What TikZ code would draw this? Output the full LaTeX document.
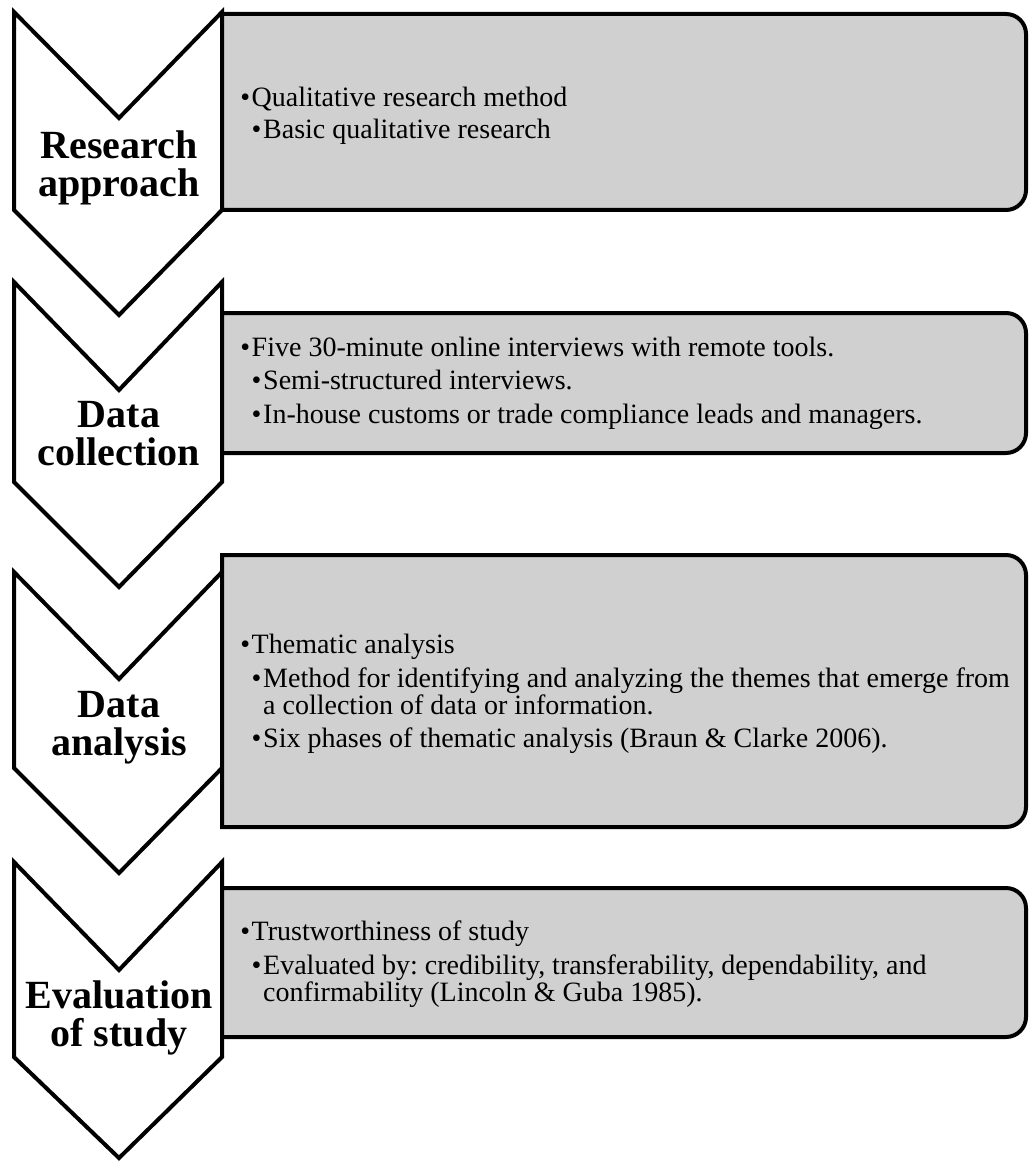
\documentclass[tikz,border=0pt]{standalone}
\usepackage{fontspec}
\setmainfont{Liberation Serif}
\usepackage{tikz}
\usetikzlibrary{positioning}
\definecolor{boxgray}{RGB}{208, 208, 208}
\newcommand{\bul}{\makebox[8.6pt][l]{•}}
\newcommand{\subbul}{\hspace*{8.6pt}\bul}
\newcommand{\contline}{\hspace*{17.2pt}}

\begin{document}
\frenchspacing
\begin{tikzpicture}[x=0.75pt, y=0.75pt,
  chevron/.style={draw, line width=3pt, fill=white, line join=miter},
  infobox/.style={draw, line width=3pt, fill=boxgray},
  steplabel/.style={font=\bfseries\fontsize{30pt}{28.5pt}\selectfont,
                    align=center, inner sep=0pt},
  itemtext/.style={font=\fontsize{21pt}{20.25pt}\selectfont,
                   align=left, anchor=west, inner sep=0pt}]
  \useasboundingbox (0,0) rectangle (1030,-1162);
  % Research approach
  \draw[chevron] (14,-12) -- (119,-118) -- (222,-12) -- (222,-210)
                 -- (119,-315) -- (14,-210) -- cycle;
  \draw[infobox] (222,-14) -- (1006,-14) arc[start angle=90, end angle=0, radius=15pt]
                 -- (1026,-190) arc[start angle=0, end angle=-90, radius=15pt]
                 -- (222,-210) -- cycle;
  \node[steplabel] (approach) at (119,-168) {Research\\approach};
  \node[itemtext] (approachtxt) at (240,-116)
        {\bul Qualitative research method\\[4pt]
         \subbul Basic qualitative research};
  % Data collection
  \draw[chevron] (14,-282) -- (119,-390) -- (222,-282) -- (222,-482)
                 -- (119,-587) -- (14,-482) -- cycle;
  \draw[infobox] (222,-313) -- (1006,-313) arc[start angle=90, end angle=0, radius=15pt]
                 -- (1026,-433) arc[start angle=0, end angle=-90, radius=15pt]
                 -- (222,-453) -- cycle;
  \node[steplabel] (collection) at (119,-434) {Data\\collection};
  \node[itemtext] (collectiontxt) at (240,-383)
        {\bul Five 30-minute online interviews with remote tools.\\[5pt]
         \subbul Semi-structured interviews.\\[5pt]
         \subbul In-house customs or trade compliance leads and managers.};
  % Data analysis
  \draw[chevron] (14,-572) -- (119,-679) -- (222,-572) -- (222,-768)
                 -- (119,-873) -- (14,-768) -- cycle;
  \draw[infobox] (222,-555) -- (1006,-555) arc[start angle=90, end angle=0, radius=15pt]
                 -- (1026,-807) arc[start angle=0, end angle=-90, radius=15pt]
                 -- (222,-827) -- cycle;
  \node[steplabel] (analysis) at (119,-728) {Data\\analysis};
  \node[itemtext] (analysistxt) at (240,-694)
        {\bul Thematic analysis\\[5pt]
         \subbul Method for identifying and analyzing the themes that emerge from\\
         \contline a collection of data or information.\\[5pt]
         \subbul Six phases of thematic analysis (Braun \& Clarke 2006).};
  % Evaluation of study
  \draw[chevron] (14,-862) -- (119,-970) -- (222,-862) -- (222,-1057)
                 -- (119,-1158) -- (14,-1057) -- cycle;
  \draw[infobox] (222,-888) -- (1006,-888) arc[start angle=90, end angle=0, radius=15pt]
                 -- (1026,-1017) arc[start angle=0, end angle=-90, radius=15pt]
                 -- (222,-1037) -- cycle;
  \node[steplabel] (evaluation) at (119,-1018) {Evaluation\\of study};
  \node[itemtext] (evaluationtxt) at (240,-964)
        {\bul Trustworthiness of study\\[5pt]
         \subbul Evaluated by: credibility, transferability, dependability, and\\
         \contline confirmability (Lincoln \& Guba 1985).};
\end{tikzpicture}
\end{document}
